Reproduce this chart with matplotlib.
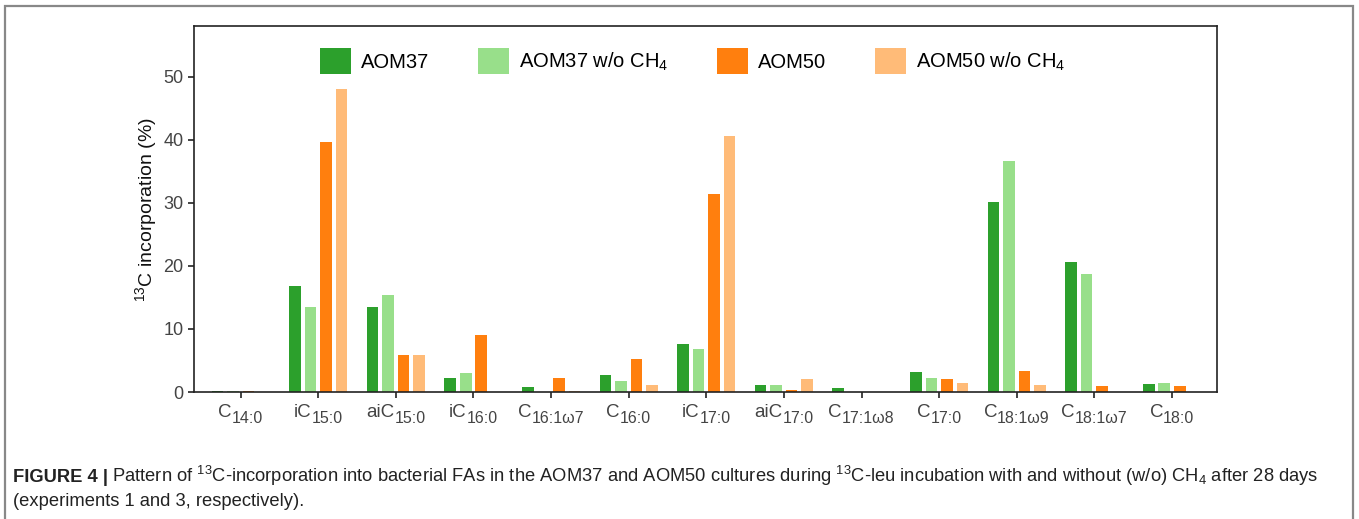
import numpy as np
import matplotlib.pyplot as plt
from matplotlib.patches import Rectangle

plt.rcParams['font.family'] = ['Liberation Sans', 'DejaVu Sans']
plt.rcParams['mathtext.fontset'] = 'custom'
plt.rcParams['mathtext.rm'] = 'Liberation Sans'
plt.rcParams['mathtext.it'] = 'Liberation Sans:italic'
plt.rcParams['mathtext.bf'] = 'Liberation Sans:bold'

# acidos grasos: prefijo y subindice de cada etiqueta del eje x
prefijos = ['C', 'iC', 'aiC', 'iC', 'C', 'C', 'iC', 'aiC', 'C', 'C', 'C', 'C', 'C']
subindices = ['14:0', '15:0', '15:0', '16:0', '16:1ω7', '16:0', '17:0', '17:0',
              '17:1ω8', '17:0', '18:1ω9', '18:1ω7', '18:0']

# incorporacion de 13C (%) por cultivo
aom37 = [0.2, 16.8, 13.5, 2.3, 0.85, 2.7, 7.6, 1.15, 0.7, 3.2, 30.1, 20.7, 1.3]
aom37_sin = [0.2, 13.5, 15.4, 3.0, 0.0, 1.8, 6.8, 1.1, 0.0, 2.3, 36.6, 18.75, 1.35]
aom50 = [0.1, 39.7, 5.9, 9.1, 2.15, 5.3, 31.4, 0.25, 0.0, 2.05, 3.3, 1.0, 0.9]
aom50_sin = [0.0, 48.1, 5.9, 0.0, 0.1, 1.15, 40.6, 2.1, 0.0, 1.5, 1.15, 0.0, 0.0]

series = [aom37, aom37_sin, aom50, aom50_sin]
nombres = ['AOM37', 'AOM37 w/o CH$_4$', 'AOM50', 'AOM50 w/o CH$_4$']
colores = ['#2ca02c', '#98df8a', '#ff7f0e', '#ffbb78']

fig = plt.figure(figsize=(13.59, 5.19), dpi=100)
ax = fig.add_axes([0.1428, 0.2447, 0.7527, 0.7043])

x = np.arange(len(prefijos))
offsets = [-0.3, -0.1, 0.1, 0.3]
for i in range(len(series)):
    ax.bar(x + offsets[i], series[i], width=0.15, color=colores[i], label=nombres[i])

ax.set_xlim(-0.6, 12.58)
ax.set_ylim(0, 58)
ax.set_yticks([0, 10, 20, 30, 40, 50])
ax.set_xticks(x)
ax.set_xticklabels([])
ax.tick_params(axis='both', direction='out', length=4, width=1.2, colors='#222222',
               labelcolor='#444444', labelsize=13)
for s in ax.spines.values():
    s.set_linewidth(1.2)
    s.set_color('#222222')
ax.set_ylabel('$^{13}$C incorporation (%)', fontsize=14, color='#111111', labelpad=3)

ax.legend(loc='upper left', bbox_to_anchor=(0.123, 0.94), ncol=4, frameon=False,
          fontsize=14.5, handlelength=1.55, handleheight=1.55, handletextpad=0.5,
          columnspacing=2.4, borderpad=0, borderaxespad=0)

# etiquetas del eje x con subindice grande (C + 18:1ω9)
fig.canvas.draw()
r = fig.canvas.get_renderer()
for i in range(len(x)):
    a = ax.annotate(prefijos[i], xy=(x[i], 0), xycoords=('data', 'axes fraction'),
                    xytext=(0, -25), textcoords='offset pixels', fontsize=13.5,
                    color='#444444', ha='left', va='baseline')
    b = ax.annotate(subindices[i], xy=(x[i], 0), xycoords=('data', 'axes fraction'),
                    xytext=(0, -31), textcoords='offset pixels', fontsize=11.5,
                    color='#444444', ha='left', va='baseline')
    w1 = a.get_window_extent(r).width
    w2 = b.get_window_extent(r).width
    a.set_position((-(w1 + w2) / 2, -25))
    b.set_position((-(w1 + w2) / 2 + w1, -31))

# marco de la figura
fig.patches.append(Rectangle((5 / 1359, -0.05), 1348 / 1359, 1 - 6 / 519 + 0.05,
                             transform=fig.transFigure, fill=False,
                             edgecolor='#888888', linewidth=1.6))

# leyenda de la figura
y1 = 1 - 482 / 519
y2 = 1 - 506 / 519
t1 = fig.text(13 / 1359, y1, 'FIGURE 4 |', fontsize=13.2, fontweight='bold',
              color='#222222', va='baseline')
bb = t1.get_window_extent(r)
fig.text(bb.x1 / fig.bbox.width + 4 / 1359, y1,
         'Pattern of $^{13}$C-incorporation into bacterial FAs in the AOM37 and AOM50 '
         'cultures during $^{13}$C-leu incubation with and without (w/o) CH$_4$ after 28 days',
         fontsize=13.2, color='#222222', va='baseline')
fig.text(13 / 1359, y2, '(experiments 1 and 3, respectively).', fontsize=13.2,
         color='#222222', va='baseline')

fig.savefig('out.png', dpi=100)
